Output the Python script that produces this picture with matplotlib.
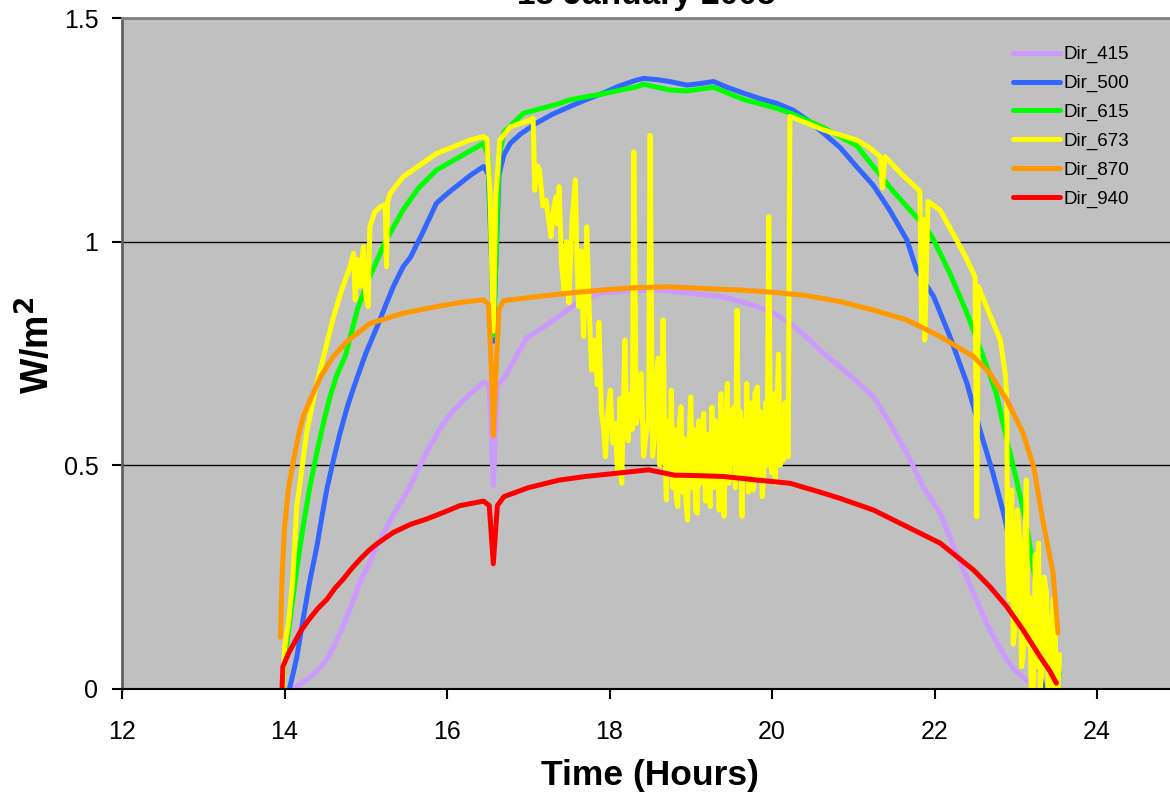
import matplotlib
matplotlib.use('Agg')
import matplotlib.pyplot as plt
import numpy as np

plt.rcParams['font.family'] = ['Liberation Sans', 'DejaVu Sans']

title = '13 January 2005'
labels = ['Dir_415', 'Dir_500', 'Dir_615', 'Dir_673', 'Dir_870', 'Dir_940']

# Dir_415
t_415 = [14.1, 14.2, 14.3, 14.4, 14.52, 14.62, 14.72, 14.83, 14.93, 15.04,
         15.14, 15.24, 15.34, 15.45, 15.55, 15.65, 15.75, 15.86, 15.96, 16.06,
         16.16, 16.3, 16.45, 16.52, 16.57, 16.62, 16.7, 16.84, 16.98, 17.2,
         17.39, 17.6, 17.89, 18.2, 18.6, 19.0, 19.4, 19.82, 20.02, 20.22,
         20.43, 20.63, 20.84, 21.04, 21.25, 21.45, 21.66, 21.86, 22.07, 22.27,
         22.48, 22.68, 22.89, 23.0, 23.13, 23.2, 23.3]
v_415 = [0.0, 0.012, 0.025, 0.04, 0.066, 0.1, 0.14, 0.19, 0.24, 0.28,
         0.32, 0.355, 0.39, 0.423, 0.455, 0.492, 0.53, 0.565, 0.595, 0.618,
         0.638, 0.662, 0.686, 0.68, 0.455, 0.68, 0.694, 0.74, 0.785, 0.81,
         0.835, 0.862, 0.885, 0.89, 0.892, 0.885, 0.877, 0.855, 0.84, 0.818,
         0.786, 0.751, 0.72, 0.688, 0.653, 0.595, 0.527, 0.452, 0.393, 0.303,
         0.214, 0.132, 0.065, 0.04, 0.02, 0.01, 0.0]

# Dir_500
t_500 = [14.06, 14.1, 14.15, 14.23, 14.31, 14.40, 14.46, 14.52, 14.6, 14.68,
         14.78, 14.89, 15.0, 15.14, 15.25, 15.34, 15.46, 15.55, 15.7, 15.87,
         16.02, 16.16, 16.3, 16.45, 16.51, 16.55, 16.57, 16.6, 16.64, 16.7,
         16.78, 16.9, 17.1, 17.3, 17.51, 17.72, 17.92, 18.12, 18.33, 18.42,
         18.6, 18.74, 18.95, 19.1, 19.28, 19.45, 19.65, 19.85, 20.06, 20.26,
         20.45, 20.63, 20.84, 21.04, 21.25, 21.45, 21.66, 21.78, 21.99, 22.19,
         22.40, 22.56, 22.72, 22.85, 22.97, 23.13, 23.26, 23.34]
v_500 = [0.0, 0.03, 0.07, 0.157, 0.24, 0.32, 0.385, 0.446, 0.51, 0.57,
         0.635, 0.694, 0.75, 0.81, 0.86, 0.90, 0.944, 0.965, 1.02, 1.086,
         1.11, 1.13, 1.15, 1.168, 1.15, 0.95, 0.777, 0.95, 1.15, 1.194,
         1.22, 1.24, 1.265, 1.285, 1.302, 1.318, 1.332, 1.348, 1.361, 1.365,
         1.362, 1.358, 1.35, 1.353, 1.358, 1.345, 1.332, 1.32, 1.309, 1.294,
         1.27, 1.243, 1.21, 1.168, 1.125, 1.07, 1.004, 0.937, 0.877, 0.788,
         0.683, 0.579, 0.482, 0.393, 0.296, 0.184, 0.072, 0.0]

# Dir_615
t_615 = [13.98, 14.0, 14.05, 14.1, 14.16, 14.23, 14.31, 14.40, 14.48, 14.56,
         14.64, 14.75, 14.9, 15.05, 15.24, 15.46, 15.65, 15.87, 16.16, 16.45,
         16.51, 16.55, 16.57, 16.6, 16.64, 16.7, 16.94, 17.39, 17.51, 17.9,
         18.33, 18.42, 18.74, 18.95, 19.28, 19.65, 20.06, 20.26, 20.63, 21.04,
         21.49, 21.9, 21.99, 22.19, 22.40, 22.60, 22.76, 22.89, 23.01, 23.13,
         23.26, 23.38, 23.54]
v_615 = [0.0, 0.066, 0.13, 0.2, 0.28, 0.364, 0.45, 0.53, 0.595, 0.653,
         0.70, 0.745, 0.85, 0.922, 1.0, 1.071, 1.12, 1.16, 1.19, 1.22,
         1.19, 0.95, 0.79, 0.95, 1.19, 1.245, 1.287, 1.309, 1.317, 1.33,
         1.346, 1.352, 1.339, 1.337, 1.345, 1.318, 1.298, 1.285, 1.255, 1.215,
         1.113, 1.03, 1.004, 0.929, 0.84, 0.743, 0.661, 0.557, 0.467, 0.37,
         0.221, 0.11, 0.035]

# Dir_673
t_673 = [13.98, 14.0, 14.05, 14.1, 14.15, 14.27, 14.38, 14.48, 14.6, 14.7,
         14.8, 14.85, 14.87, 14.9, 14.93, 14.97, 15.0, 15.03, 15.05, 15.11,
         15.18, 15.24, 15.255, 15.27, 15.30, 15.46, 15.87, 16.28, 16.45, 16.49,
         16.53, 16.57, 16.60, 16.65, 16.78, 17.0, 17.06,
         17.08, 17.11, 17.14, 17.18, 17.22, 17.25, 17.28, 17.31, 17.34, 17.36,
         17.38, 17.41, 17.44, 17.47, 17.50, 17.54, 17.58, 17.60, 17.62, 17.65,
         17.68, 17.70, 17.72, 17.75, 17.78, 17.82, 17.85, 17.87, 17.90, 17.93,
         17.95, 17.98, 18.01, 18.04, 18.07, 18.10, 18.13, 18.15, 18.17, 18.19,
         18.21, 18.23, 18.26, 18.28, 18.30, 18.33, 18.36, 18.39, 18.42, 18.45,
         18.48, 18.50, 18.53,
         18.55, 18.58, 18.60, 18.62, 18.64, 18.66, 18.68, 18.70, 18.72, 18.74,
         18.76, 18.78, 18.80, 18.82, 18.84, 18.86, 18.88, 18.90, 18.92, 18.94,
         18.96, 18.98, 19.00, 19.02, 19.04, 19.06, 19.08, 19.10, 19.12, 19.14,
         19.16, 19.18, 19.20, 19.22, 19.24, 19.26, 19.28, 19.30, 19.33, 19.35,
         19.37, 19.39, 19.41, 19.43, 19.45, 19.47, 19.49, 19.51, 19.53, 19.55,
         19.57, 19.59, 19.61, 19.63, 19.65, 19.67, 19.69, 19.71, 19.73, 19.75,
         19.77, 19.79, 19.82, 19.84, 19.86, 19.88, 19.90, 19.92, 19.94, 19.96,
         19.98, 20.00, 20.02, 20.04, 20.06, 20.08, 20.10, 20.12, 20.14, 20.16,
         20.18, 20.20,
         20.22, 20.43, 20.63, 21.04, 21.20, 21.33, 21.36, 21.39, 21.60, 21.82,
         21.84, 21.86, 21.88, 21.92, 22.07, 22.27, 22.40, 22.48, 22.50, 22.52,
         22.54, 22.64, 22.81, 22.87, 22.89, 22.90, 22.92, 22.95, 22.97, 22.99,
         23.02, 23.05, 23.07, 23.09, 23.11, 23.13, 23.15, 23.17, 23.19, 23.22,
         23.24, 23.26, 23.28, 23.30, 23.32, 23.35, 23.38, 23.40, 23.42, 23.44,
         23.46, 23.48, 23.50, 23.52, 23.54]
v_673 = [0.0, 0.09, 0.15, 0.24, 0.405, 0.57, 0.67, 0.743, 0.83, 0.89,
         0.94, 0.974, 0.87, 0.96, 0.90, 0.989, 0.88, 0.855, 1.033, 1.066,
         1.078, 1.083, 0.944, 1.09, 1.108, 1.145, 1.197, 1.227, 1.235, 1.23,
         1.107, 0.80, 1.10, 1.227, 1.257, 1.27, 1.276,
         1.115, 1.17, 1.16, 1.08, 1.093, 1.05, 1.011, 1.07, 1.10, 1.04,
         1.123, 0.95, 0.892, 1.0, 0.863, 1.05, 1.138, 0.95, 0.855, 0.98,
         0.788, 0.90, 1.033, 0.85, 0.713, 0.78, 0.68, 0.82, 0.62, 0.58,
         0.519, 0.62, 0.668, 0.55, 0.594, 0.48, 0.65, 0.46, 0.62, 0.78,
         0.60, 0.555, 0.66, 0.58, 1.201, 0.594, 0.62, 0.705, 0.52, 0.57,
         0.60, 1.238, 0.52,
         0.555, 0.70, 0.74, 0.50, 0.62, 0.825, 0.55, 0.423, 0.60, 0.48,
         0.668, 0.45, 0.58, 0.43, 0.408, 0.60, 0.631, 0.44, 0.56, 0.42,
         0.378, 0.55, 0.653, 0.45, 0.58, 0.40, 0.393, 0.60, 0.46, 0.55,
         0.616, 0.42, 0.57, 0.44, 0.408, 0.63, 0.45, 0.60, 0.52, 0.40,
         0.66, 0.45, 0.386, 0.58, 0.683, 0.46, 0.62, 0.505, 0.63, 0.45,
         0.847, 0.48, 0.62, 0.386, 0.60, 0.47, 0.683, 0.44, 0.64, 0.50,
         0.445, 0.66, 0.675, 0.47, 0.62, 0.43, 0.482, 0.64, 0.50, 1.056,
         0.55, 0.482, 0.66, 0.46, 0.62, 0.749, 0.50, 0.60, 0.512, 0.64,
         0.53, 0.519,
         1.28, 1.265, 1.25, 1.227, 1.21, 1.19, 1.12, 1.19, 1.15, 1.113,
         0.82, 1.05, 0.78, 1.09, 1.07, 1.004, 0.96, 0.929, 0.92, 0.385,
         0.90, 0.855, 0.78, 0.706, 0.646, 0.29, 0.20, 0.445, 0.10, 0.137,
         0.40, 0.334, 0.05, 0.068, 0.30, 0.467, 0.10, 0.205, 0.0, 0.0,
         0.30, 0.05, 0.326, 0.0, 0.034, 0.25, 0.214, 0.0, 0.16, 0.0,
         0.20, 0.18, 0.0, 0.0, 0.077]

# Dir_870
t_870 = [13.95, 13.97, 14.0, 14.05, 14.11, 14.17, 14.23, 14.35, 14.45, 14.6,
         14.77, 15.05, 15.46, 15.87, 16.2, 16.45, 16.51, 16.55, 16.57, 16.6,
         16.64, 16.7, 16.78, 17.10, 17.5, 17.92, 18.3, 18.74, 19.2, 19.6,
         20.0, 20.4, 20.84, 21.25, 21.66, 22.07, 22.48, 22.68, 22.89, 23.09,
         23.22, 23.34, 23.46, 23.52]
v_870 = [0.116, 0.25, 0.36, 0.45, 0.51, 0.565, 0.61, 0.66, 0.70, 0.743,
         0.777, 0.817, 0.84, 0.855, 0.865, 0.87, 0.86, 0.70, 0.566, 0.70,
         0.85, 0.868, 0.87, 0.877, 0.885, 0.892, 0.897, 0.899, 0.895, 0.892,
         0.887, 0.88, 0.866, 0.847, 0.825, 0.788, 0.743, 0.706, 0.646, 0.572,
         0.497, 0.37, 0.259, 0.125]

# Dir_940
t_940 = [13.97, 13.98, 14.05, 14.11, 14.2, 14.3, 14.41, 14.52, 14.62, 14.72,
         14.83, 14.93, 15.04, 15.14, 15.34, 15.55, 15.75, 15.96, 16.16, 16.45,
         16.52, 16.57, 16.62, 16.7, 17.0, 17.38, 17.7, 18.07, 18.48, 18.8,
         19.1, 19.41, 19.82, 20.22, 20.63, 20.84, 21.25, 21.66, 22.07, 22.48,
         22.68, 22.89, 23.09, 23.3, 23.42, 23.5]
v_940 = [0.0, 0.05, 0.08, 0.10, 0.13, 0.155, 0.18, 0.20, 0.225, 0.245,
         0.27, 0.29, 0.31, 0.325, 0.35, 0.368, 0.38, 0.395, 0.41, 0.42,
         0.41, 0.28, 0.41, 0.43, 0.45, 0.467, 0.475, 0.482, 0.49, 0.478,
         0.477, 0.475, 0.467, 0.46, 0.438, 0.426, 0.40, 0.363, 0.326, 0.266,
         0.229, 0.184, 0.132, 0.072, 0.04, 0.013]

series = [(t_415, v_415, '#CC99FF'), (t_500, v_500, '#3366FF'),
          (t_615, v_615, '#00FF00'), (t_673, v_673, '#FFFF00'),
          (t_870, v_870, '#FF9900'), (t_940, v_940, '#FF0000')]

fig = plt.figure(figsize=(11.7, 8), dpi=100)
# plot area runs past the right edge, like the cropped original
ax = fig.add_axes([122/1170, 111/800, 1137.5/1170, 671/800])
ax.set_facecolor('#C0C0C0')

for (t, v, c), lab in zip(series, labels):
    ax.plot(t, v, color=c, lw=3.6, label=lab,
            solid_joinstyle='round', solid_capstyle='round')

ax.set_xlim(12, 26)
ax.set_ylim(0, 1.5)
ax.set_xticks(np.arange(12, 26, 2))
ax.set_yticks([0, 0.5, 1, 1.5])
ax.set_yticklabels(['0', '0.5', '1', '1.5'])
ax.tick_params(axis='both', direction='out', length=7, width=1.5, labelsize=18)
ax.tick_params(axis='y', pad=10)
ax.tick_params(axis='x', pad=15)
ax.yaxis.grid(True, color='black', lw=1)
ax.set_axisbelow(True)

ax.spines['left'].set_color('#606060')
ax.spines['left'].set_linewidth(2)
ax.spines['top'].set_color('#808080')
ax.spines['top'].set_linewidth(2)
ax.spines['bottom'].set_color('black')
ax.spines['bottom'].set_linewidth(1.5)
ax.spines['right'].set_visible(False)

ax.set_xlabel('Time (Hours)', fontsize=25.5, fontweight='bold')
ax.xaxis.set_label_coords((650 - 122) / 1137.5, (689 - 776) / 671)
ax.xaxis.label.set_va('center')
ax.set_ylabel('W/m$^\\mathbf{2}$', fontsize=27, fontweight='bold')
ax.yaxis.set_label_coords((38 - 122) / 1137.5, (689 - 345) / 671)
ax.yaxis.label.set_va('center')

fig.text(646/1170, 1 - 4/800, title, ha='center', va='baseline',
         fontsize=24, fontweight='bold')

fig.legend(loc='upper left', bbox_to_anchor=(1013/1170, 1 - 46/800),
           frameon=False, fontsize=13.5, handlelength=2.5, handletextpad=0.2,
           labelspacing=0.62, borderpad=0, borderaxespad=0)

fig.savefig('out.png', dpi=100)
